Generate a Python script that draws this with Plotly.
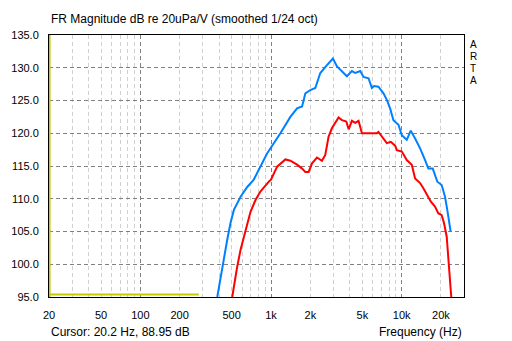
import plotly.graph_objects as go

# ---- data ----
blue_f = [388, 411, 436, 462, 490, 520, 585, 658, 738, 933, 1180, 1407, 1583, 1729, 1832, 2000, 2183,
          2384, 2680, 2979, 3200, 3493, 3812, 4160, 4412, 4820, 5107, 5575, 5918, 6150, 6640, 7260,
          7700, 8160, 8650, 9450, 10030, 10940, 11740, 12670, 13840, 15110, 16010, 17300, 18760,
          20240, 21470, 22340, 23700]
blue_db = [95.0, 98.1, 101.2, 103.7, 106.3, 108.3, 110.3, 111.8, 112.9, 116.9, 120.0, 122.5, 123.8, 124.1,
           126.1, 126.6, 126.9, 129.2, 130.4, 131.4, 130.2, 129.4, 128.7, 129.5, 129.2, 129.5, 128.6,
           128.4, 126.9, 127.2, 127.1, 126.1, 125.1, 123.8, 122.0, 121.3, 119.7, 119.0, 120.4, 119.2,
           117.7, 115.9, 114.6, 114.6, 112.6, 112.1, 110.3, 108.3, 105.0]

red_f = [505, 520, 551, 585, 620, 658, 697, 761, 830, 962, 1000, 1114, 1289, 1407, 1583, 1729, 1832, 1941,
         2061, 2250, 2455, 2603, 2760, 2930, 3290, 3493, 3770, 3930, 4160, 4412, 4677, 4966, 5740,
         6460, 6640, 7260, 7700, 8260, 8910, 9200, 10030, 10940, 11950, 12670, 13840, 14660, 15550,
         16690, 17990, 19060, 20240, 21090, 22120, 22750, 23430, 23970]
red_db = [95.0, 96.6, 99.6, 102.2, 104.2, 106.3, 108.0, 109.8, 111.1, 112.6, 112.9, 114.9, 116.0, 115.8,
          115.2, 114.6, 114.1, 114.1, 115.4, 116.3, 115.8, 116.7, 119.5, 120.8, 122.4, 122.0, 121.8,
          120.6, 121.9, 121.6, 121.9, 120.0, 120.0, 120.0, 120.2, 119.2, 118.5, 118.7, 118.1, 117.4,
          117.2, 115.9, 115.2, 113.1, 112.4, 111.6, 110.6, 109.6, 108.8, 107.8, 107.5, 106.3, 104.2,
          100.6, 96.6, 95.0]

ref_f = [20, 280]
ref_db = [95.4, 95.4]

cursor_f = [20.2, 20.2]
cursor_db = [95, 135]

tick_vals = [20, 50, 100, 200, 500, 1000, 2000, 5000, 10000, 20000]
tick_text = ["20", "50", "100", "200", "500", "1k", "2k", "5k", "10k", "20k"]
minor_vals = [v * m for m in (10, 100, 1000) for v in range(2, 10)] + [20000, 30000]
major_vals = [100, 1000, 10000]
y_vals = [95, 100, 105, 110, 115, 120, 125, 130, 135]
side_letters = ["A", "R", "T", "A"]

FONT = "Liberation Sans, Arial, sans-serif"

fig = go.Figure()
fig.add_trace(go.Scatter(x=cursor_f, y=cursor_db, mode="lines",
                         line=dict(color="#c8c800", width=2), hoverinfo="skip"))
fig.add_trace(go.Scatter(x=ref_f, y=ref_db, mode="lines",
                         line=dict(color="#c8c800", width=2)))
fig.add_trace(go.Scatter(x=blue_f, y=blue_db, mode="lines",
                         line=dict(color="#0080ff", width=2)))
fig.add_trace(go.Scatter(x=red_f, y=red_db, mode="lines",
                         line=dict(color="#ff0000", width=2)))

annotations = [
    dict(text="FR Magnitude dB re 20uPa/V (smoothed 1/24 oct)", xref="paper", yref="paper",
         x=0, y=1, xanchor="left", yanchor="bottom", yshift=7, showarrow=False,
         font=dict(size=12)),
    dict(text="Cursor: 20.2 Hz, 88.95 dB", xref="paper", yref="paper",
         x=0, y=0, xanchor="left", yanchor="top", yshift=-26, showarrow=False,
         font=dict(size=12)),
    dict(text="Frequency (Hz)", xref="paper", yref="paper",
         x=1, y=0, xanchor="right", yanchor="top", yshift=-26, showarrow=False,
         font=dict(size=12)),
]
for i, ch in enumerate(side_letters):
    annotations.append(dict(text=ch, xref="paper", yref="paper", x=1, y=1,
                            xanchor="center", yanchor="middle", xshift=9, yshift=-9 - 12 * i,
                            showarrow=False, borderpad=0, font=dict(size=10)))

fig.update_layout(
    width=512, height=341,
    margin=dict(l=49, r=48, t=35, b=44),
    paper_bgcolor="white", plot_bgcolor="white",
    showlegend=False,
    font=dict(family=FONT, size=11, color="black"),
    xaxis=dict(
        type="log", range=[1.30103, 4.4771],
        tickvals=tick_vals, ticktext=tick_text, ticks="",
        showgrid=True, gridcolor="#d0d0d0", griddash="4px,3px", gridwidth=1,
        minor=dict(tickvals=minor_vals, showgrid=True, gridcolor="#d0d0d0",
                   griddash="4px,3px", gridwidth=1, ticks=""),
        showline=True, linecolor="black", linewidth=1, mirror=True,
        zeroline=False, ticklabelstandoff=8,
    ),
    xaxis2=dict(
        type="log", range=[1.30103, 4.4771], overlaying="x",
        tickvals=major_vals, showticklabels=False, ticks="",
        showgrid=True, gridcolor="#808080", griddash="4px,3px", gridwidth=1,
        zeroline=False,
    ),
    yaxis=dict(
        range=[95, 135], tickvals=y_vals, tickformat=".1f", ticks="",
        showgrid=True, gridcolor="#808080", griddash="4px,3px", gridwidth=1,
        showline=True, linecolor="black", linewidth=1, mirror=True,
        zeroline=False, ticklabelstandoff=7,
    ),
    annotations=annotations,
)
fig.add_trace(go.Scatter(x=[20], y=[95], xaxis="x2", mode="markers",
                         marker=dict(opacity=0), hoverinfo="skip"))

fig.write_html("out.html")
